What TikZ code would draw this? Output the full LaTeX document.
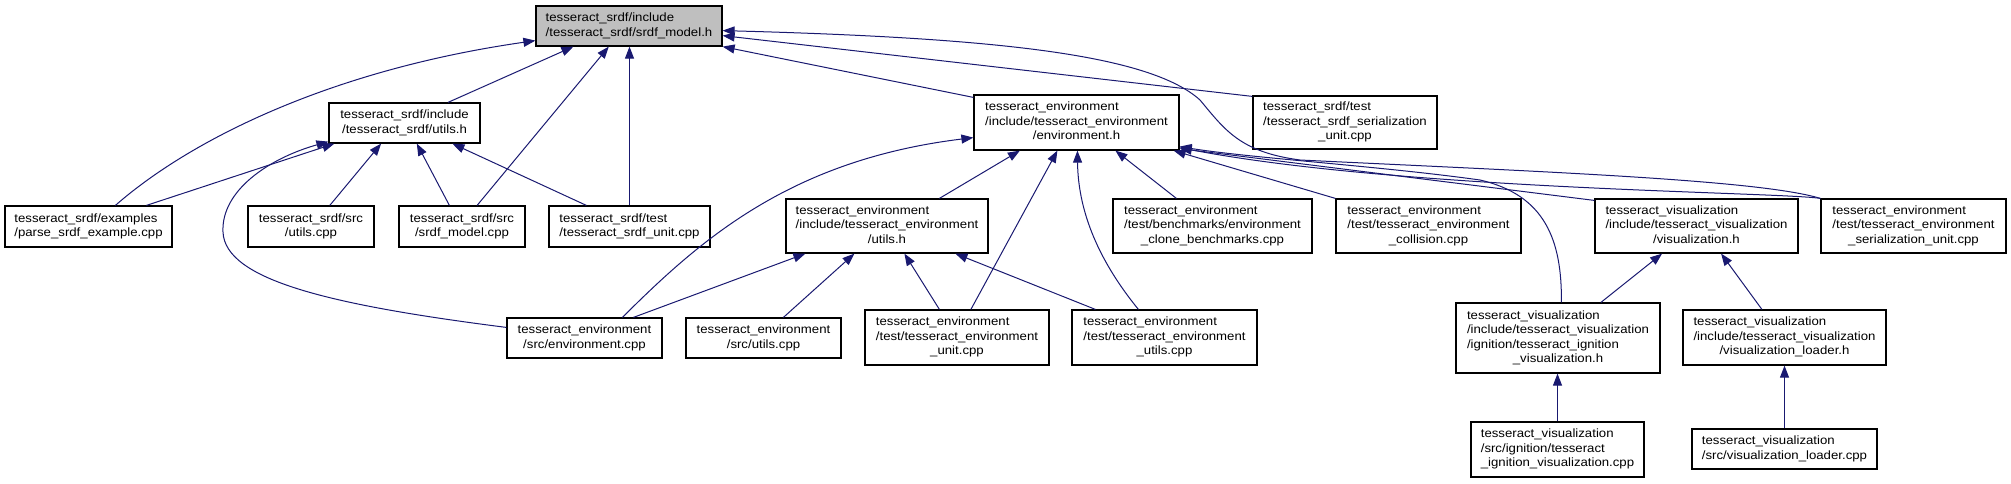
\documentclass[tikz,border=0pt]{standalone}
\usepackage{fontspec}
\setmainfont{Liberation Sans}[FakeStretch=1.1]
\usetikzlibrary{arrows.meta,calc}
\definecolor{edgeblue}{HTML}{191970}
\definecolor{focusgray}{HTML}{BFBFBF}
\newcommand{\lbl}[2]{\begin{tabular}{@{}l@{}}#1\\\multicolumn{1}{@{}c@{}}{#2}\end{tabular}}
\tikzset{
  box/.style={draw=black, line width=1.2pt, fill=white, inner sep=0pt, rectangle,
    font=\fontsize{12}{14.5}\selectfont},
  edge/.style={draw=edgeblue, line width=1pt, -{Triangle[length=12pt,width=9pt]}, edgeblue}
}
\begin{document}
\begin{tikzpicture}[x=1pt,y=-1pt]
\useasboundingbox (0,0) rectangle (2011,483);
% nodes
\node[box, fill=focusgray, minimum width=186pt, minimum height=40pt] (model) at (629,26) {\lbl{tesseract\_srdf/include}{/tesseract\_srdf/srdf\_model.h}};
\node[box, minimum width=151pt, minimum height=40pt] (srdfutils) at (404.5,123) {\lbl{tesseract\_srdf/include}{/tesseract\_srdf/utils.h}};
\node[box, minimum width=167pt, minimum height=41pt] (parse) at (88.5,226.5) {\lbl{tesseract\_srdf/examples}{/parse\_srdf\_example.cpp}};
\node[box, minimum width=126pt, minimum height=41pt] (srdfutilscpp) at (311,226.5) {\lbl{tesseract\_srdf/src}{/utils.cpp}};
\node[box, minimum width=126pt, minimum height=41pt] (srdfmodelcpp) at (462,226.5) {\lbl{tesseract\_srdf/src}{/srdf\_model.cpp}};
\node[box, minimum width=161pt, minimum height=41pt] (srdfunit) at (629.5,226.5) {\lbl{tesseract\_srdf/test}{/tesseract\_srdf\_unit.cpp}};
\node[box, minimum width=205pt, minimum height=55pt] (envh) at (1076.5,122.5) {\lbl{tesseract\_environment\\/include/tesseract\_environment}{/environment.h}};
\node[box, minimum width=184pt, minimum height=53pt] (srdfser) at (1345,122.5) {\lbl{tesseract\_srdf/test\\/tesseract\_srdf\_serialization}{\_unit.cpp}};
\node[box, minimum width=202pt, minimum height=54pt] (envutilsh) at (887,226) {\lbl{tesseract\_environment\\/include/tesseract\_environment}{/utils.h}};
\node[box, minimum width=199pt, minimum height=54pt] (bench) at (1212.5,226) {\lbl{tesseract\_environment\\/test/benchmarks/environment}{\_clone\_benchmarks.cpp}};
\node[box, minimum width=185pt, minimum height=54pt] (collision) at (1428.5,226) {\lbl{tesseract\_environment\\/test/tesseract\_environment}{\_collision.cpp}};
\node[box, minimum width=203pt, minimum height=54pt] (vish) at (1696.5,226) {\lbl{tesseract\_visualization\\/include/tesseract\_visualization}{/visualization.h}};
\node[box, minimum width=185pt, minimum height=54pt] (envser) at (1913.5,226) {\lbl{tesseract\_environment\\/test/tesseract\_environment}{\_serialization\_unit.cpp}};
\node[box, minimum width=155pt, minimum height=40pt] (envcpp) at (584.5,338) {\lbl{tesseract\_environment}{/src/environment.cpp}};
\node[box, minimum width=155pt, minimum height=40pt] (envutilscpp) at (763.5,338) {\lbl{tesseract\_environment}{/src/utils.cpp}};
\node[box, minimum width=184pt, minimum height=55pt] (envunit) at (957,337.5) {\lbl{tesseract\_environment\\/test/tesseract\_environment}{\_unit.cpp}};
\node[box, minimum width=185pt, minimum height=55pt] (envutilstest) at (1164.5,337.5) {\lbl{tesseract\_environment\\/test/tesseract\_environment}{\_utils.cpp}};
\node[box, minimum width=204pt, minimum height=70pt] (ignh) at (1558,338) {\lbl{tesseract\_visualization\\/include/tesseract\_visualization\\/ignition/tesseract\_ignition}{\_visualization.h}};
\node[box, minimum width=203pt, minimum height=55pt] (loaderh) at (1784.5,337.5) {\lbl{tesseract\_visualization\\/include/tesseract\_visualization}{/visualization\_loader.h}};
\node[box, minimum width=173pt, minimum height=55pt] (igncpp) at (1557.5,449.5) {\lbl{tesseract\_visualization\\/src/ignition/tesseract}{\_ignition\_visualization.cpp}};
\node[box, minimum width=185pt, minimum height=40pt] (loadercpp) at (1784.5,449) {\lbl{tesseract\_visualization}{/src/visualization\_loader.cpp}};
% edges
\draw[edge] ($(parse.north west)+(111,0)$) .. controls (190,140) and (330,70) .. ($(model.south west)+(0,-6)$);
\draw[edge] ($(parse.north west)+(142,0)$) -- ($(srdfutils.south west)+(6,0)$);
\draw[edge] ($(srdfutils.north west)+(119.6,0)$) -- ($(model.south west)+(38,0)$);
\draw[edge] ($(srdfutilscpp.north west)+(82.4,0)$) -- ($(srdfutils.south west)+(52.7,0)$);
\draw[edge] ($(srdfmodelcpp.north west)+(51,0)$) -- ($(srdfutils.south west)+(88.4,0)$);
\draw[edge] ($(srdfmodelcpp.north west)+(78.7,0)$) -- ($(model.south west)+(73.4,0)$);
\draw[edge] ($(srdfunit.north west)+(38,0)$) -- ($(srdfutils.south west)+(124,0)$);
\draw[edge] (srdfunit.north) -- (srdfunit.north |- model.south);
\draw[edge] ($(envcpp.north west)+(0,10)$) .. controls (330,305) and (225,280) .. (223,232) .. controls (221,190) and (270,158) .. ($(srdfutils.south west)+(0,-2)$);
\draw[edge] ($(envh.north west)+(0,3)$) -- (model.south east);
\draw[edge] ($(srdfser.north west)+(0,1)$) -- ($(model.south east)+(0,-11)$);
\draw[edge] (envser.north west) .. controls (1760,180) and (1550,172) .. (1300,160) .. controls (1240,152) and (1225,130) .. (1200,100) .. controls (1150,55) and (1000,38) .. ($(model.south east)+(0,-16)$);
\draw[edge] ($(envutilsh.north west)+(154,0)$) -- ($(envh.south west)+(46.5,0)$);
\draw[edge] ($(envcpp.north west)+(116,0)$) .. controls (700,240) and (790,160) .. ($(envh.south west)+(0,-13)$);
\draw[edge] ($(envcpp.north west)+(127,0)$) -- ($(envutilsh.south west)+(20,0)$);
\draw[edge] ($(envutilscpp.north west)+(98,0)$) -- ($(envutilsh.south west)+(69,0)$);
\draw[edge] ($(envunit.north west)+(75,0)$) -- ($(envutilsh.south west)+(119,0)$);
\draw[edge] ($(envutilstest.north west)+(24,0)$) -- ($(envutilsh.south west)+(170,0)$);
\draw[edge] ($(envunit.north west)+(106.5,0)$) -- ($(envh.south west)+(84,0)$);
\draw[edge] ($(envutilstest.north west)+(67,0)$) .. controls (1090,250) and (1078,200) .. ($(envh.south west)+(104,0)$);
\draw[edge] ($(bench.north west)+(64,0)$) -- ($(envh.south west)+(142,0)$);
\draw[edge] (collision.north west) -- ($(envh.south east)+(-6,0)$);
\draw[edge] ($(vish.north west)+(0,2)$) -- ($(envh.south east)+(0,-2)$);
\draw[edge] (envser.north west) .. controls (1780,192) and (1400,190) .. ($(envh.south east)+(0,-3)$);
\draw[edge] ($(ignh.north west)+(106,0)$) .. controls (1562,240) and (1545,195) .. (1480,180) .. controls (1380,166) and (1250,158) .. ($(envh.south east)+(0,-4)$);
\draw[edge] ($(ignh.north west)+(145.5,0)$) -- ($(vish.south west)+(67.7,0)$);
\draw[edge] ($(loaderh.north west)+(79.5,0)$) -- ($(vish.south west)+(126.7,0)$);
\draw[edge] (igncpp.north) -- (igncpp.north |- ignh.south);
\draw[edge] (loadercpp.north) -- (loaderh.south);
\end{tikzpicture}
\end{document}
